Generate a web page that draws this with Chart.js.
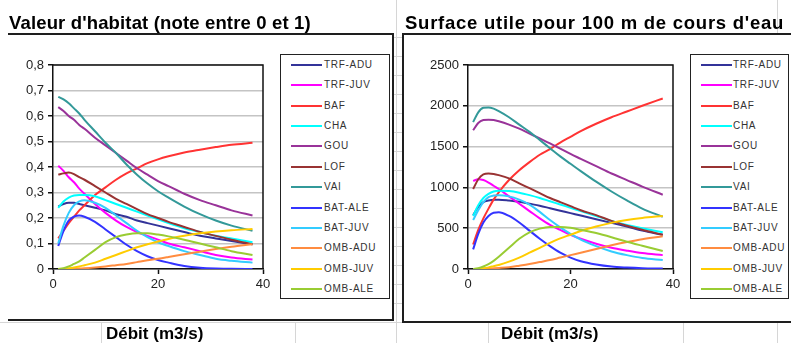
<!DOCTYPE html>
<html>
<head>
<meta charset="utf-8">
<script src="https://cdn.jsdelivr.net/npm/chart.js@4.4.1/dist/chart.umd.min.js"></script>
<style>
  html, body { margin:0; padding:0; background:#fff; }
  body { width:791px; height:343px; position:relative; overflow:hidden; font-family:"Liberation Sans", Arial, sans-serif; }
  .g { position:absolute; background:#d6d6d6; }
  .k { position:absolute; background:#1e1e1e; }
  .title { position:absolute; font-weight:bold; font-size:18.5px; color:#000; white-space:nowrap; line-height:20px; }
  .xlab { position:absolute; font-weight:bold; font-size:17px; color:#000; white-space:nowrap; line-height:20px; }
  .legend { position:absolute; border:1.5px solid #222; box-sizing:border-box; background:#fff; }
  .li { position:absolute; left:0; height:12px; }
  .li .sw { position:absolute; top:5px; height:2px; }
  .li .tx { position:absolute; top:0; font-size:10px; letter-spacing:0.7px; color:#333; line-height:12px; white-space:nowrap; }
  canvas { position:absolute; top:0; }
</style>
</head>
<body>
<div id="deco"></div>
<canvas id="c1" width="400" height="343" style="left:0px;width:400px;height:343px"></canvas>
<canvas id="c2" width="391" height="343" style="left:400px;width:391px;height:343px"></canvas>
<div class="title" style="left:9px;top:13px;letter-spacing:0.15px">Valeur d'habitat (note entre 0 et 1)</div>
<div class="title" style="left:405px;top:13px;letter-spacing:0.75px">Surface utile pour 100 m de cours d'eau</div>
<div class="xlab" style="left:106px;top:324px">Débit (m3/s)</div>
<div class="xlab" style="left:501px;top:324px">Débit (m3/s)</div>
<div id="leg1" class="legend" style="left:280px;top:54px;width:110px;height:245px"></div>
<div id="leg2" class="legend" style="left:690px;top:54px;width:99px;height:245px"></div>
<script>
// ---- data ----
const xValues = [1,2,3,4,5,6,8,10,12,14,16,18,20,22,25,28,31,34,38];
const seriesNames = ['TRF-ADU','TRF-JUV','BAF','CHA','GOU','LOF','VAI','BAT-ALE','BAT-JUV','OMB-ADU','OMB-JUV','OMB-ALE'];
const seriesColors = ['#333399','#FF00FF','#FF3333','#00FFFF','#993399','#993333','#339999','#3333FF','#33CCFF','#FF8C40','#FFCC00','#99CC33'];

// Valeur d'habitat
const hab_TRF_ADU = [0.245,0.255,0.26,0.26,0.255,0.25,0.24,0.23,0.215,0.205,0.19,0.18,0.17,0.16,0.145,0.13,0.12,0.11,0.097];
const hab_TRF_JUV = [0.405,0.385,0.36,0.34,0.315,0.295,0.255,0.22,0.19,0.165,0.145,0.13,0.115,0.10,0.085,0.07,0.055,0.045,0.037];
const hab_BAF     = [0.12,0.15,0.18,0.205,0.23,0.25,0.29,0.32,0.35,0.375,0.395,0.415,0.43,0.442,0.457,0.468,0.478,0.487,0.495];
const hab_CHA     = [0.24,0.265,0.28,0.288,0.29,0.29,0.285,0.27,0.255,0.24,0.225,0.21,0.195,0.18,0.16,0.145,0.13,0.12,0.105];
const hab_GOU     = [0.635,0.62,0.60,0.585,0.565,0.55,0.515,0.485,0.455,0.425,0.395,0.37,0.345,0.325,0.295,0.27,0.25,0.23,0.21];
const hab_LOF     = [0.37,0.375,0.378,0.372,0.36,0.35,0.325,0.30,0.275,0.255,0.235,0.215,0.20,0.185,0.165,0.145,0.13,0.115,0.097];
const hab_VAI     = [0.675,0.665,0.65,0.63,0.61,0.585,0.54,0.495,0.455,0.41,0.37,0.335,0.305,0.28,0.245,0.215,0.19,0.17,0.15];
const hab_BAT_ALE = [0.09,0.15,0.19,0.205,0.21,0.205,0.185,0.155,0.125,0.095,0.07,0.05,0.035,0.025,0.012,0.005,0.002,0.001,0];
const hab_BAT_JUV = [0.10,0.17,0.22,0.25,0.265,0.27,0.26,0.24,0.21,0.18,0.15,0.125,0.105,0.09,0.07,0.055,0.04,0.032,0.025];
const hab_OMB_ADU = [0,0,0,0.001,0.002,0.003,0.006,0.01,0.015,0.02,0.027,0.034,0.04,0.047,0.058,0.068,0.078,0.087,0.097];
const hab_OMB_JUV = [0,0.001,0.003,0.006,0.01,0.015,0.025,0.04,0.055,0.07,0.085,0.097,0.108,0.118,0.13,0.14,0.147,0.152,0.157];
const hab_OMB_ALE = [0,0.003,0.01,0.02,0.03,0.045,0.075,0.105,0.125,0.135,0.14,0.14,0.135,0.128,0.115,0.10,0.085,0.07,0.055];

// Surface utile
const surf_TRF_ADU = [660,760,820,840,850,850,840,825,800,775,745,715,685,655,610,565,520,470,420];
const surf_TRF_JUV = [1080,1100,1090,1060,1020,980,890,800,710,620,540,480,420,370,310,260,225,195,170];
const surf_BAF     = [300,480,620,740,850,940,1090,1210,1310,1400,1470,1550,1620,1690,1780,1860,1930,2000,2090];
const surf_CHA     = [650,780,870,920,950,960,955,935,905,870,830,790,750,710,650,590,540,500,450];
const surf_GOU     = [1700,1790,1825,1830,1825,1810,1770,1720,1660,1600,1540,1475,1410,1350,1260,1170,1090,1010,910];
const surf_LOF     = [980,1100,1160,1170,1165,1150,1110,1050,990,930,870,820,770,720,660,590,530,480,420];
const surf_VAI     = [1800,1920,1975,1980,1965,1935,1860,1770,1680,1580,1480,1380,1290,1200,1070,950,840,740,640];
const surf_BAT_ALE = [240,430,570,650,690,695,650,570,470,370,280,200,140,95,55,30,18,10,5];
const surf_BAT_JUV = [600,720,820,880,900,905,890,850,790,700,600,510,430,360,280,215,170,135,110];
const surf_OMB_ADU = [0,0,2,5,8,12,22,40,60,85,110,140,170,200,245,290,330,365,400];
const surf_OMB_JUV = [0,3,10,20,35,50,90,140,200,260,320,375,420,465,520,565,600,625,650];
const surf_OMB_ALE = [0,10,30,60,100,150,260,370,450,495,515,515,505,480,440,390,335,285,220];

const yTicksLeft  = ['0','0,1','0,2','0,3','0,4','0,5','0,6','0,7','0,8'];
const yTicksRight = ['0','500','1000','1500','2000','2500'];
const xTicks = ['0','20','40'];

const habSeries  = [hab_TRF_ADU,hab_TRF_JUV,hab_BAF,hab_CHA,hab_GOU,hab_LOF,hab_VAI,hab_BAT_ALE,hab_BAT_JUV,hab_OMB_ADU,hab_OMB_JUV,hab_OMB_ALE];
const surfSeries = [surf_TRF_ADU,surf_TRF_JUV,surf_BAF,surf_CHA,surf_GOU,surf_LOF,surf_VAI,surf_BAT_ALE,surf_BAT_JUV,surf_OMB_ADU,surf_OMB_JUV,surf_OMB_ALE];

// ---- spreadsheet decoration ----
const deco = document.getElementById('deco');
function box(cls, l, t, w, h) { const d = document.createElement('div'); d.className = cls; d.style.cssText = `left:${l}px;top:${t}px;width:${w}px;height:${h}px`; deco.appendChild(d); }
box('g', 396, 0, 1, 343);
box('g', 777, 0, 1, 34);
box('g', 0, 322, 791, 1);
[101, 295, 488, 683, 777].forEach(x => box('g', x, 323, 1, 20));
for (let y = 303; y > 36; y -= 19) box('g', 394, y, 8, 1);
box('k', 8, 33, 386, 2);
box('k', 392, 33, 2, 288);
box('k', 8, 319, 386, 2);
box('k', 402, 33, 389, 2);
box('k', 402, 33, 2, 290);
box('k', 402, 321, 389, 2);

// ---- legends ----
function buildLegend(id, swLeft, swLen, txLeft) {
  const el = document.getElementById(id);
  seriesNames.forEach((n, i) => {
    const it = document.createElement('div');
    it.className = 'li';
    it.style.top = (4 + i * 20.36) + 'px';
    it.style.width = '100%';
    it.innerHTML = `<div class="sw" style="left:${swLeft}px;width:${swLen}px;background:${seriesColors[i]}"></div><div class="tx" style="left:${txLeft}px">${n}</div>`;
    el.appendChild(it);
  });
}
buildLegend('leg1', 10, 31, 43);
buildLegend('leg2', 10, 31, 42);

// ---- charts ----
const FONT = '"Liberation Sans", Arial, sans-serif';
const frame = {
  id: 'frame',
  afterDatasetsDraw(chart) {
    const a = chart.chartArea, ctx = chart.ctx;
    ctx.save();
    ctx.strokeStyle = '#111'; ctx.lineWidth = 1.5;
    ctx.beginPath();
    ctx.moveTo(a.left, a.top); ctx.lineTo(a.right, a.top); ctx.lineTo(a.right, a.bottom);
    ctx.stroke();
    ctx.restore();
  }
};

function makeChart(id, series, yMax, yStep, yLabels, yAxisW, rightPad) {
  const datasets = series.map((arr, i) => ({
    label: seriesNames[i],
    data: arr.map((v, j) => ({ x: xValues[j], y: v })),
    borderColor: seriesColors[i],
    backgroundColor: seriesColors[i],
    borderWidth: 2,
    pointRadius: 0,
    fill: false,
    order: series.length - i,
    cubicInterpolationMode: 'monotone'
  }));
  return new Chart(document.getElementById(id), {
    type: 'line',
    data: { datasets },
    plugins: [frame],
    options: {
      responsive: false, animation: false, devicePixelRatio: 1,
      layout: { padding: { left: 0, top: 65, right: rightPad, bottom: 44 } },
      plugins: { legend: { display: false }, tooltip: { enabled: false } },
      scales: {
        x: {
          type: 'linear', min: 0, max: 40,
          afterFit(s) { s.height = 30; },
          afterBuildTicks(s) { s.ticks = xTicks.map(t => ({ value: Number(t) })); },
          ticks: { color: '#222', font: { family: FONT, size: 13 }, padding: 3, maxRotation: 0, callback: (v) => String(v) },
          grid: { drawOnChartArea: false, drawTicks: true, tickLength: 5, tickColor: '#111', tickWidth: 1.5 },
          border: { display: true, color: '#111', width: 1.5 }
        },
        y: {
          type: 'linear', min: 0, max: yMax,
          afterFit(s) { s.width = yAxisW; },
          ticks: { stepSize: yStep, color: '#222', font: { family: FONT, size: 13 }, padding: 4,
                   callback: (v, idx) => yLabels[idx] },
          grid: { color: '#c4c4c4', lineWidth: 1.5, drawTicks: true, tickLength: 5, tickColor: '#111', tickWidth: 1.5 },
          border: { display: true, color: '#111', width: 1.5 }
        }
      }
    }
  });
}
makeChart('c1', habSeries, 0.8, 0.1, yTicksLeft, 53, 137);
makeChart('c2', surfSeries, 2500, 500, yTicksRight, 68, 118);
</script>
</body>
</html>
